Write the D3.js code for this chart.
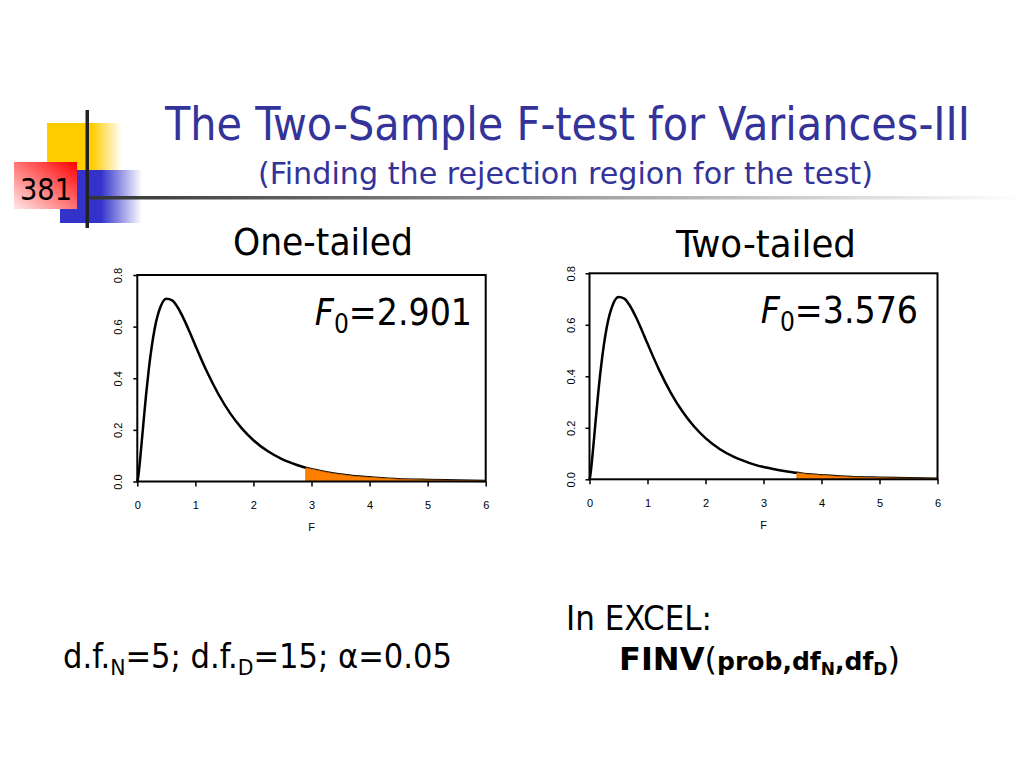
<!DOCTYPE html>
<html>
<head>
<meta charset="utf-8">
<script src="https://d3js.org/d3.v7.min.js"></script>
<style>
  body { margin: 0; background: #fff; }
  .slide-font { font-family: "DejaVu Sans Condensed", "DejaVu Sans", sans-serif; }
  .axis text { font-family: "Liberation Sans", Arial, sans-serif; font-size: 11px; fill: #000; }
  .axis line { stroke: #000; stroke-width: 1.5; }
</style>
</head>
<body>
<svg id="slide" width="1024" height="768"></svg>
<script>
// F(5,15) density
var fValues  = [0, 0.01, 0.02, 0.05, 0.1, 0.15, 0.2, 0.3, 0.4, 0.5, 0.6, 0.7, 0.8, 0.9, 1.0,
                1.2, 1.4, 1.6, 1.8, 2.0, 2.25, 2.5, 2.75, 2.901, 3.0, 3.25, 3.5, 3.576, 3.75,
                4.0, 4.5, 5.0, 5.5, 6.0];
var density  = [0, 0.009, 0.025, 0.089, 0.213, 0.334, 0.439, 0.593, 0.677, 0.708, 0.702, 0.673, 0.630, 0.580, 0.527,
                0.425, 0.337, 0.264, 0.206, 0.160, 0.117, 0.086, 0.064, 0.053, 0.048, 0.036, 0.027, 0.025, 0.020,
                0.016, 0.009, 0.006, 0.004, 0.002];
var xTicks = [0, 1, 2, 3, 4, 5, 6];
var yTicks = [0, 0.2, 0.4, 0.6, 0.8];
var panelTitles = ["One-tailed", "Two-tailed"];
var criticalValues = [2.901, 3.576];

var curve = fValues.map(function(x, i) { return {x: x, y: density[i]}; });

var svg = d3.select("#slide");

// ---- slide decoration ----
var defs = svg.append("defs");
function hGrad(id, stops) {
  var g = defs.append("linearGradient").attr("id", id)
      .attr("x1", 0).attr("y1", 0).attr("x2", 1).attr("y2", 0);
  stops.forEach(function(s) {
    g.append("stop").attr("offset", s[0]).attr("stop-color", s[1]);
  });
}
hGrad("yellowFade", [[0, "#ffcc00"], [0.6, "#ffcc00"], [1, "#ffffff"]]);
hGrad("blueFade", [[0, "#3333cc"], [0.5, "#3333cc"], [1, "#ffffff"]]);
hGrad("ruleFade", [[0, "#333333"], [0.5, "#999999"], [1, "#ffffff"]]);
var rg = defs.append("linearGradient").attr("id", "redFade")
    .attr("x1", 0).attr("y1", 1).attr("x2", 1).attr("y2", 0);
rg.append("stop").attr("offset", 0).attr("stop-color", "#ffe8e8");
rg.append("stop").attr("offset", 1).attr("stop-color", "#ff0000");

svg.append("rect").attr("x", 47).attr("y", 123).attr("width", 75).attr("height", 48).attr("fill", "url(#yellowFade)");
svg.append("rect").attr("x", 60).attr("y", 170).attr("width", 82).attr("height", 53).attr("fill", "url(#blueFade)");
svg.append("rect").attr("x", 14).attr("y", 162).attr("width", 63).attr("height", 47).attr("fill", "url(#redFade)");
svg.append("text").attr("class", "slide-font").attr("x", 46).attr("y", 200)
    .attr("text-anchor", "middle").style("font-size", "31px")
    .attr("textLength", 52).attr("lengthAdjust", "spacingAndGlyphs").text("381");
svg.append("rect").attr("x", 87).attr("y", 196).attr("width", 937).attr("height", 3.5).attr("fill", "url(#ruleFade)");
svg.append("rect").attr("x", 85.5).attr("y", 110).attr("width", 3.5).attr("height", 118).attr("fill", "#222");

// ---- titles ----
svg.append("text").attr("class", "slide-font").attr("x", 567.5).attr("y", 140)
    .attr("text-anchor", "middle").style("font-size", "46px").style("fill", "#333399")
    .attr("textLength", 805).attr("lengthAdjust", "spacingAndGlyphs")
    .text("The Two-Sample F-test for Variances-III");
svg.append("text").attr("class", "slide-font").attr("x", 565.5).attr("y", 184)
    .attr("text-anchor", "middle").style("font-size", "31px").style("fill", "#333399")
    .attr("textLength", 615).attr("lengthAdjust", "spacingAndGlyphs")
    .text("(Finding the rejection region for the test)");

// ---- panels ----
var panels = [
  {left: 137.3, right: 485.7, top: 275, bottom: 481.5, titleX: 323, titleY: 255, f0End: 472},
  {left: 589.5, right: 937.5, top: 273.3, bottom: 479.3, titleX: 766, titleY: 257, f0End: 918}
];

var line = d3.line().curve(d3.curveMonotoneX);

panels.forEach(function(p, i) {
  var x = d3.scaleLinear().domain([0, 6]).range([p.left, p.right]),
      y = d3.scaleLinear().domain([0, 0.8]).range([p.bottom, p.top]);

  svg.append("text").attr("class", "slide-font")
      .attr("x", p.titleX).attr("y", p.titleY)
      .attr("text-anchor", "middle").style("font-size", "38px")
      .attr("textLength", 180).attr("lengthAdjust", "spacingAndGlyphs")
      .text(panelTitles[i]);

  var g = svg.append("g");

  line.x(function(d) { return x(d.x); }).y(function(d) { return y(d.y); });
  g.append("path").datum(curve)
      .attr("d", line)
      .attr("fill", "none").attr("stroke", "#000").attr("stroke-width", 2.5);

  var tail = curve.filter(function(d) { return d.x >= criticalValues[i]; });
  var area = d3.area().curve(d3.curveMonotoneX)
      .x(function(d) { return x(d.x); })
      .y0(y(0))
      .y1(function(d) { return y(d.y); });
  g.append("path").datum(tail)
      .attr("d", area)
      .attr("fill", "#ff8000").attr("stroke", "#d06a00").attr("stroke-width", 0.8);

  g.append("rect")
      .attr("x", p.left).attr("y", p.top)
      .attr("width", p.right - p.left).attr("height", p.bottom - p.top)
      .attr("fill", "none").attr("stroke", "#000").attr("stroke-width", 2);

  var xAxis = g.append("g").attr("class", "axis")
      .attr("transform", "translate(0," + p.bottom + ")")
      .call(d3.axisBottom(x).tickValues(xTicks).tickSize(5).tickPadding(15).tickFormat(d3.format("d")));
  xAxis.select(".domain").remove();

  var yAxis = g.append("g").attr("class", "axis")
      .attr("transform", "translate(" + p.left + ",0)")
      .call(d3.axisLeft(y).tickValues(yTicks).tickSize(4).tickFormat(d3.format(".1f")));
  yAxis.select(".domain").remove();
  yAxis.selectAll("text")
      .attr("transform", "rotate(-90)")
      .attr("x", 0).attr("y", -15).attr("dy", 0)
      .attr("text-anchor", "middle");

  g.append("text")
      .attr("x", (p.left + p.right) / 2).attr("y", p.bottom + 49.5)
      .attr("text-anchor", "middle")
      .style("font-family", "Liberation Sans, Arial, sans-serif").style("font-size", "11px")
      .text("F");

  var f0 = svg.append("text").attr("class", "slide-font")
      .attr("x", p.f0End).attr("y", p.top + 50)
      .attr("text-anchor", "end").style("font-size", "37px");
  f0.append("tspan").style("font-style", "italic").text("F");
  f0.append("tspan").attr("dy", 8).style("font-size", "26px").text("0");
  f0.append("tspan").attr("dy", -8).text("=" + criticalValues[i].toFixed(3));
});

// ---- bottom notes ----
var df = svg.append("text").attr("class", "slide-font")
    .attr("x", 63).attr("y", 668).style("font-size", "33px")
    .attr("textLength", 389).attr("lengthAdjust", "spacingAndGlyphs");
df.append("tspan").text("d.f.");
df.append("tspan").attr("dy", 7).style("font-size", "22px").text("N");
df.append("tspan").attr("dy", -7).text("=5; d.f.");
df.append("tspan").attr("dy", 7).style("font-size", "22px").text("D");
df.append("tspan").attr("dy", -7).text("=15; \u03b1=0.05");

svg.append("text").attr("class", "slide-font")
    .attr("x", 566).attr("y", 630).style("font-size", "33px")
    .attr("textLength", 146).attr("lengthAdjust", "spacingAndGlyphs")
    .text("In EXCEL:");

var finv = svg.append("text").attr("class", "slide-font")
    .attr("x", 619).attr("y", 670).style("font-size", "32px")
    .attr("textLength", 281).attr("lengthAdjust", "spacingAndGlyphs");
finv.append("tspan").style("font-weight", "bold").text("FINV");
finv.append("tspan").text("(");
finv.append("tspan").style("font-weight", "bold").style("font-size", "25px").text("prob,df");
finv.append("tspan").attr("dy", 5).style("font-weight", "bold").style("font-size", "17px").text("N");
finv.append("tspan").attr("dy", -5).style("font-weight", "bold").style("font-size", "25px").text(",df");
finv.append("tspan").attr("dy", 5).style("font-weight", "bold").style("font-size", "17px").text("D");
finv.append("tspan").attr("dy", -5).text(")");
</script>
</body>
</html>
